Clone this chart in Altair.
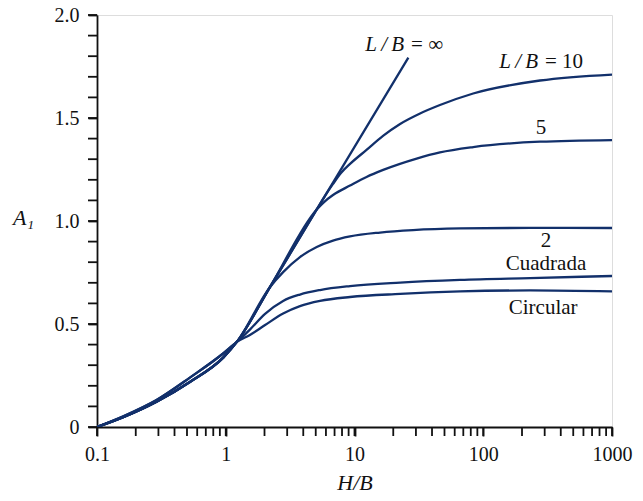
import altair as alt
import pandas as pd

# ---- data ----
hb_base = [0.1, 0.16, 0.29, 0.53, 0.96, 1.22]
a1_strip_base = [0.0, 0.048, 0.123, 0.220, 0.338, 0.413]
a1_round_base = [0.0, 0.052, 0.131, 0.241, 0.358, 0.413]

hb_inf = [2.21, 5.09, 5.90, 26.2]
a1_inf = [0.680, 1.056, 1.122, 1.793]

hb_10 = [6.81, 7.85, 9.23, 12.4, 16.65, 22.6, 32.3, 46.1, 83.5, 276, 1000]
a1_10 = [1.180, 1.233, 1.277, 1.345, 1.413, 1.471, 1.522, 1.563, 1.619, 1.682, 1.711]

hb_5 = [5.80, 6.81, 9.23, 12.4, 16.7, 30.4, 46.1, 83.5, 276, 1000]
a1_5 = [1.092, 1.126, 1.172, 1.214, 1.248, 1.303, 1.333, 1.359, 1.385, 1.393]

hb_2 = [2.79, 3.77, 5.09, 6.81, 9.23, 15.8, 28.5, 66.1, 231, 1000]
a1_2 = [0.752, 0.825, 0.874, 0.905, 0.925, 0.944, 0.956, 0.964, 0.967, 0.966]

hb_round = [1.54, 2.02, 2.79, 3.77, 5.40, 9.23, 22.6, 66.1, 231, 1000]
a1_square = [0.473, 0.549, 0.612, 0.643, 0.665, 0.684, 0.701, 0.714, 0.723, 0.733]
a1_circle = [0.447, 0.495, 0.551, 0.587, 0.612, 0.631, 0.646, 0.658, 0.663, 0.658]

plain_labels = ["5", "2", "Cuadrada", "Circular"]
plain_x = [281, 307, 307, 292]
plain_y = [1.450, 0.905, 0.793, 0.576]

lb_italic = ["L\u2009/\u2009B", "L\u2009/\u2009B"]
lb_roman = ["= \u221e", "= 10"]
lb_x = [25.6, 281]
lb_y = [1.854, 1.772]

x_major = [0.1, 1, 10, 100, 1000]
y_major = [0, 0.5, 1.0, 1.5, 2.0]

# ---- build tables ----
series = {
    "inf": (hb_base + hb_inf, a1_strip_base + a1_inf),
    "10": (hb_base + hb_inf[:3] + hb_10, a1_strip_base + a1_inf[:3] + a1_10),
    "5": (hb_base + hb_inf[:2] + hb_5, a1_strip_base + a1_inf[:2] + a1_5),
    "2": (hb_base + hb_inf[:1] + hb_2, a1_strip_base + a1_inf[:1] + a1_2),
    "Cuadrada": (hb_base + hb_round, a1_round_base + a1_square),
    "Circular": (hb_base + hb_round, a1_round_base + a1_circle),
}
rows = []
for name, (xs, ys) in series.items():
    for i, (xv, yv) in enumerate(zip(xs, ys)):
        rows.append({"s": name, "hb": xv, "a1": yv, "o": i})
df = pd.DataFrame(rows)

df_plain = pd.DataFrame({"t": plain_labels, "hb": plain_x, "a1": plain_y})
df_lb = pd.DataFrame({"ti": lb_italic, "tr": lb_roman, "hb": lb_x, "a1": lb_y})

x_ticks = sorted(set(round(m * 10.0 ** e, 6) for e in range(-1, 3) for m in range(1, 10)) | {1000})
y_ticks = [round(i * 0.1, 2) for i in range(0, 21)]
df_xt = pd.DataFrame({"hb": x_ticks})
df_yt = pd.DataFrame({"a1": y_ticks})

FONT = "Liberation Serif"
NAVY = "#12306b"
INK = "#111111"
TICK = 9

x_scale = alt.Scale(type="log", domain=[0.1, 1000], nice=False)
y_scale = alt.Scale(domain=[0, 2], nice=False)

x_enc = alt.X(
    "hb:Q",
    scale=x_scale,
    axis=alt.Axis(
        values=x_major,
        format="~g",
        title="H/B",
        titleFont=FONT,
        titleFontStyle="italic",
        titleFontWeight="normal",
        titleFontSize=22,
        titleColor=INK,
        titlePadding=8,
        labelFont=FONT,
        labelFontSize=20,
        labelColor=INK,
        labelPadding=8,
        labelFlush=False,
        labelOverlap=False,
        tickSize=TICK,
        tickWidth=1.8,
        tickColor=INK,
        domainWidth=1.8,
        domainColor=INK,
        grid=False,
    ),
)
y_enc = alt.Y(
    "a1:Q",
    scale=y_scale,
    axis=alt.Axis(
        values=y_major,
        labelExpr="datum.value == 0 ? '0' : format(datum.value, '.1f')",
        title="A\u2081",
        titleFont=FONT,
        titleFontStyle="italic",
        titleFontWeight="normal",
        titleFontSize=22,
        titleColor=INK,
        titleAngle=0,
        titleAlign="center",
        titleBaseline="middle",
        titleX=-74,
        titleY=202,
        labelFont=FONT,
        labelFontSize=20,
        labelColor=INK,
        labelPadding=9,
        labelOverlap=False,
        tickSize=TICK,
        tickWidth=1.8,
        tickColor=INK,
        domainWidth=1.8,
        domainColor=INK,
        grid=False,
    ),
)

lines = alt.Chart(df).mark_line(
    color=NAVY, strokeWidth=2.3, interpolate="monotone", clip=True
).encode(x=x_enc, y=y_enc, detail="s:N", order="o:Q")

xminor = alt.Chart(df_xt).mark_rule(color=INK, strokeWidth=1.8).encode(
    x=alt.X("hb:Q", scale=x_scale),
    y=alt.value(412),
    y2=alt.value(412 + TICK),
)
yminor = alt.Chart(df_yt).mark_rule(color=INK, strokeWidth=1.8).encode(
    y=alt.Y("a1:Q", scale=y_scale),
    x=alt.value(-TICK),
    x2=alt.value(0),
)

plain = alt.Chart(df_plain).mark_text(
    font=FONT, fontSize=21, color=INK, align="center", baseline="middle"
).encode(x="hb:Q", y="a1:Q", text="t:N")

ital = alt.Chart(df_lb).mark_text(
    font=FONT, fontSize=21, fontStyle="italic", color=INK, align="right", baseline="middle", dx=-3
).encode(x="hb:Q", y="a1:Q", text="ti:N")

roman = alt.Chart(df_lb).mark_text(
    font=FONT, fontSize=21, color=INK, align="left", baseline="middle", dx=4
).encode(x="hb:Q", y="a1:Q", text="tr:N")

chart = alt.layer(lines, xminor, yminor, plain, ital, roman).properties(
    width=515,
    height=412,
    padding={"left": 89, "top": 7, "right": 23, "bottom": 66},
    autosize=alt.AutoSizeParams(type="none"),
).configure_view(stroke=None).configure(background="white")

chart.save("out.html", embed_options={"renderer": "svg", "actions": False})
